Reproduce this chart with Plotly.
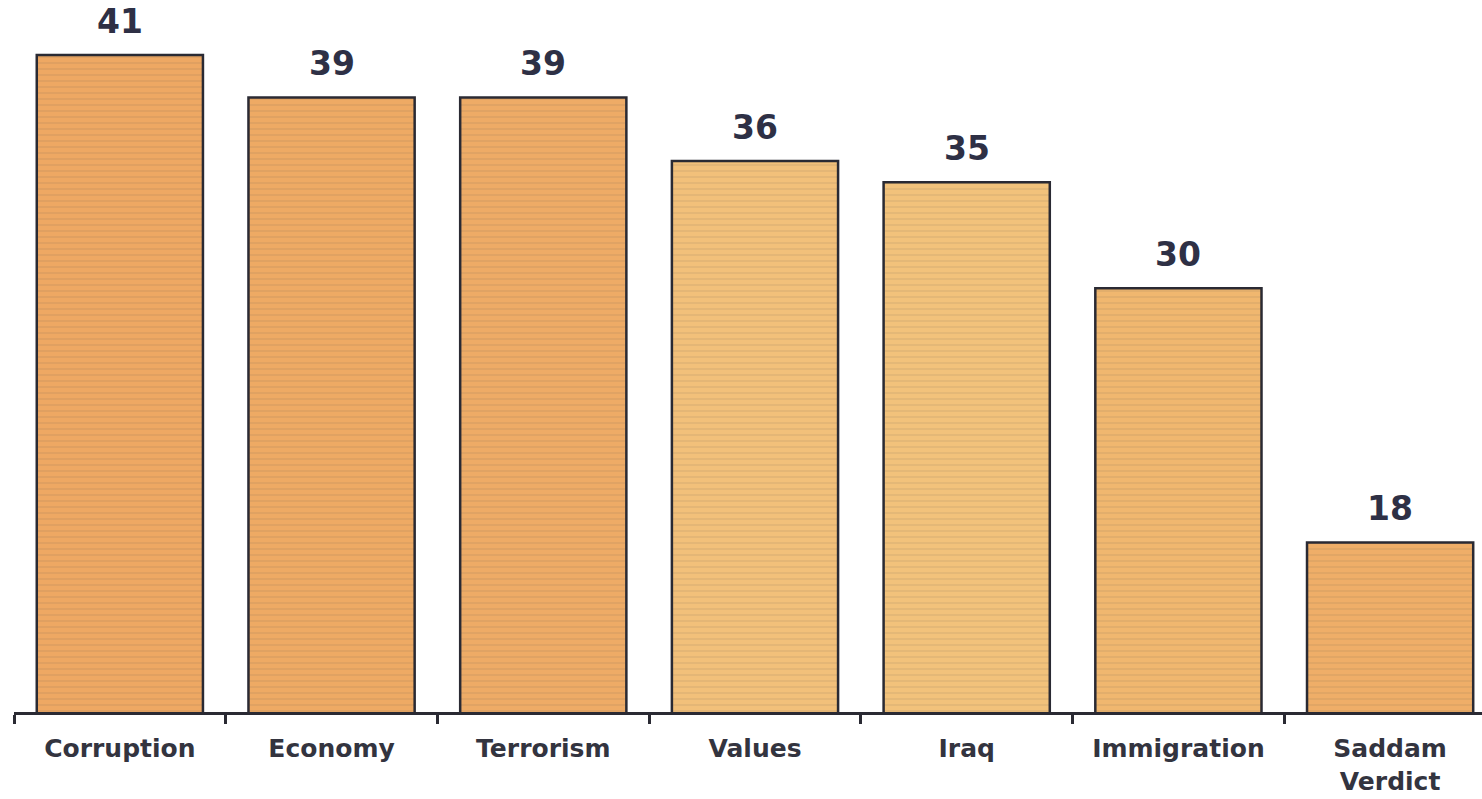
import plotly.graph_objects as go

# issues and their scores
categories = ["Corruption", "Economy", "Terrorism", "Values", "Iraq", "Immigration", "Saddam<br>Verdict"]
scores = [41, 39, 39, 36, 35, 30, 18]

# bar fill colours (scanned orange paper look)
bar_colors = ["#EEA863", "#EEAA64", "#EEAB66", "#F2C07A", "#F2C27B", "#F0B76F", "#EFAE68"]

fig = go.Figure()

fig.add_trace(
    go.Bar(
        x=categories,
        y=scores,
        marker=dict(
            color=bar_colors,
            line=dict(color="#2a2a33", width=2.5),
            # faint horizontal streaks like the scanned texture
            pattern=dict(shape="-", size=6, solidity=0.15, fgcolor="#E4894F", fgopacity=0.18),
        ),
        hoverinfo="skip",
    )
)

# value labels above each bar
for cat, val in zip(categories, scores):
    fig.add_annotation(
        x=cat, y=val, text=f"<b>{val}</b>", showarrow=False,
        yanchor="bottom", yshift=12,
        font=dict(family="DejaVu Sans", size=33, color="#2e3045"),
    )

fig.update_xaxes(
    range=[-0.5, 6.434],
    showline=True, linecolor="#2a2a33", linewidth=3,
    ticks="outside", tickson="boundaries", ticklen=9, tickwidth=2.5, tickcolor="#2a2a33",
    tickfont=dict(family="DejaVu Sans", size=25, color="#33343f"),
    ticklabelstandoff=12,
    tickvals=categories,
    ticktext=[f"<b>{c}</b>" for c in categories],
    showgrid=False,
)
fig.update_yaxes(range=[10, 43.6], visible=False, showgrid=False, zeroline=False)

fig.update_layout(
    width=1482, height=799,
    margin=dict(l=14, r=0, t=0, b=87),
    bargap=0.215,
    plot_bgcolor="white", paper_bgcolor="white",
    showlegend=False,
    font=dict(family="DejaVu Sans"),
)

fig.write_html(
    "out.html",
    config={"displayModeBar": False},
    post_script="document.body.style.margin='0';document.body.style.overflow='hidden';",
)
